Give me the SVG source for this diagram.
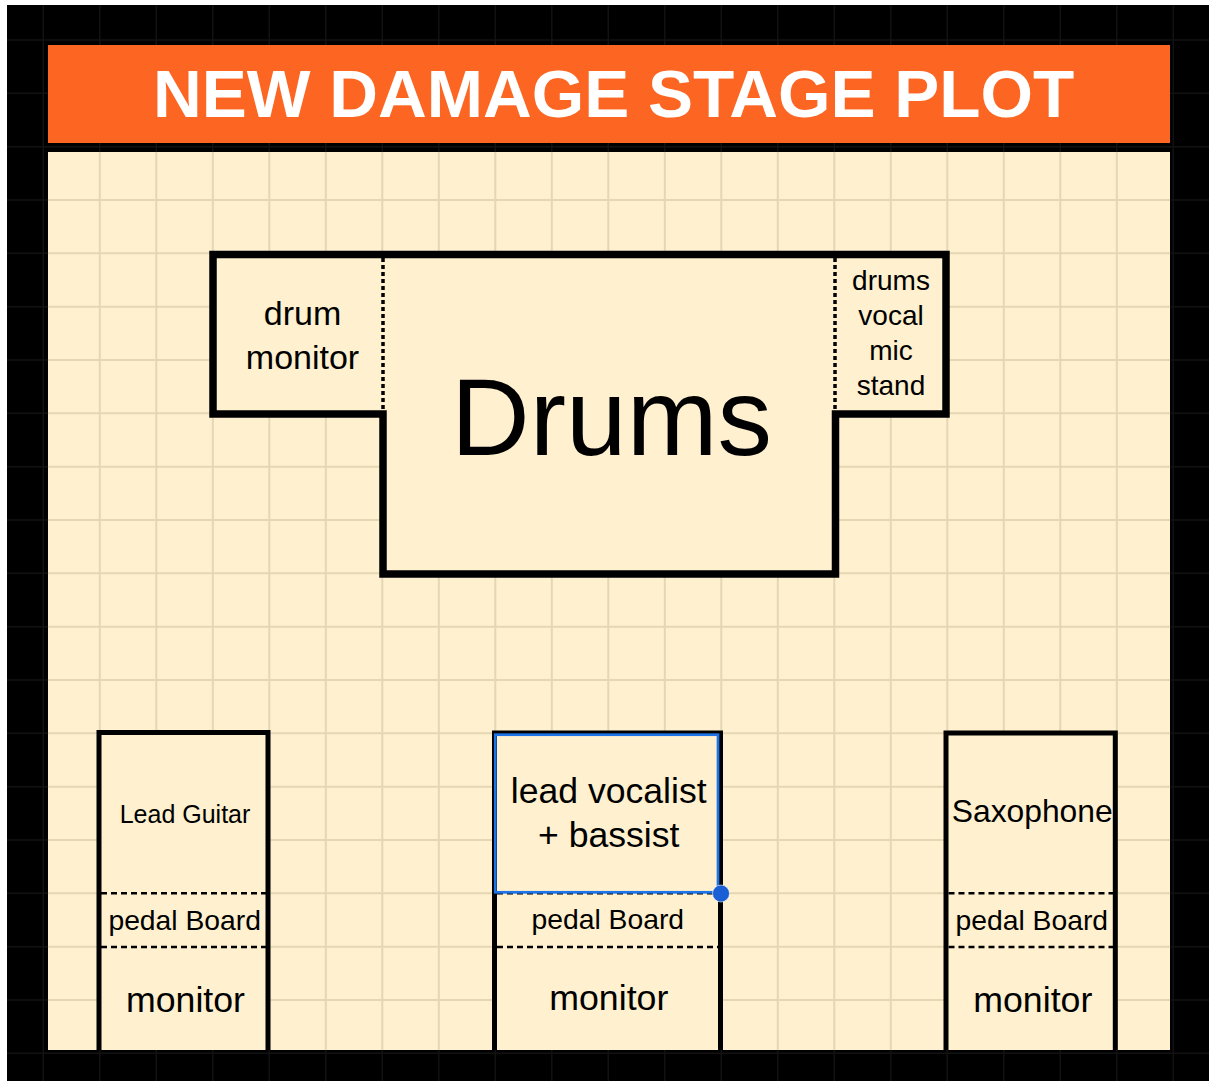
<svg xmlns="http://www.w3.org/2000/svg" width="1209" height="1081" viewBox="0 0 1209 1081">
<style>
.t{font-family:"Liberation Sans",Arial,Helvetica,sans-serif;fill:#000;text-anchor:middle}
.title{font-family:"Liberation Sans",Arial,Helvetica,sans-serif;font-weight:bold;fill:#fff;text-anchor:middle}
.outline{fill:#FFF0CF;stroke:#000;stroke-linejoin:miter}
.dash{stroke:#000;stroke-width:2.5;stroke-dasharray:6 4;fill:none}
.dot{stroke:#000;stroke-width:3.5;stroke-dasharray:4 3;fill:none}
</style>
<defs>
<clipPath id="creamClip"><rect x="48" y="152" width="1122" height="898"/></clipPath>
<clipPath id="blackClip"><rect x="7" y="5" width="1202" height="1076"/></clipPath>
<path id="grid" d="M43.3 0V1081M99.8 0V1081M156.3 0V1081M212.8 0V1081M269.3 0V1081M325.8 0V1081M382.3 0V1081M438.8 0V1081M495.3 0V1081M551.8 0V1081M608.3 0V1081M664.8 0V1081M721.3 0V1081M777.8 0V1081M834.3 0V1081M890.8 0V1081M947.3 0V1081M1003.8 0V1081M1060.3 0V1081M1116.8 0V1081M1173.3 0V1081M0 40H1209M0 93.3H1209M0 146.7H1209M0 200H1209M0 253.3H1209M0 306.7H1209M0 360H1209M0 413.3H1209M0 466.7H1209M0 520H1209M0 573.3H1209M0 626.7H1209M0 680H1209M0 733.3H1209M0 786.7H1209M0 840H1209M0 893.3H1209M0 946.7H1209M0 1000H1209M0 1053.3H1209"/>
</defs>
<rect width="1209" height="1081" fill="#fff"/>
<g id="frame">
<rect x="7" y="5" width="1202" height="1076" fill="#000"/>
<use href="#grid" stroke="#121212" stroke-width="1.5" fill="none" clip-path="url(#blackClip)"/>
<rect x="48" y="45" width="1122" height="98" fill="#FC6622"/>
<rect x="48" y="152" width="1122" height="898" fill="#FFF0CF"/>
<use href="#grid" stroke="#E5D6B4" stroke-width="2" fill="none" clip-path="url(#creamClip)"/>
<text class="title" x="613.7" y="117" font-size="67.5">NEW DAMAGE STAGE PLOT</text>
</g>
<g id="drums">
<path class="outline" stroke-width="7.5" d="M213 254.5H946V414H835.5V574H383V414H213Z"/>
<path class="dot" d="M383 258V410M835 258V410"/>
<text class="t" x="611.5" y="455" font-size="109">Drums</text>
</g>
<g id="drum-monitor">
<text class="t" x="302.5" y="325" font-size="34">drum</text>
<text class="t" x="302.5" y="368.5" font-size="34">monitor</text>
</g>
<g id="drums-vocal-mic">
<text class="t" x="891" y="290" font-size="28">drums</text>
<text class="t" x="891" y="325" font-size="28">vocal</text>
<text class="t" x="891" y="360" font-size="28">mic</text>
<text class="t" x="891" y="395" font-size="28">stand</text>
</g>
<g id="lead-guitar">
<path class="outline" stroke-width="5" d="M99 1050V732.5H268V1050"/>
<path class="dash" d="M101 893.3H266M101 947H266"/>
<text class="t" x="185" y="823" font-size="25">Lead Guitar</text>
<text class="t" x="184.7" y="930" font-size="28.3">pedal Board</text>
<text class="t" x="185.5" y="1011.5" font-size="35.7">monitor</text>
</g>
<g id="lead-vocalist">
<path class="outline" stroke-width="5" d="M494.5 1050V733H720.5V1050"/>
<path class="dash" d="M497 893.3H718M497 947H718"/>
<rect x="495.3" y="734.7" width="222.7" height="157.6" fill="none" stroke="#1E74E6" stroke-width="2.7"/>
<circle cx="721" cy="893.5" r="8.5" fill="#1B5FD5" stroke="#fff" stroke-opacity="0.6" stroke-width="1"/>
<text class="t" x="608.7" y="803.3" font-size="35.6">lead vocalist</text>
<text class="t" x="608.7" y="846.7" font-size="35.6">+ bassist</text>
<text class="t" x="607.8" y="928.5" font-size="28.3">pedal Board</text>
<text class="t" x="608.8" y="1010" font-size="35.7">monitor</text>
</g>
<g id="saxophone">
<path class="outline" stroke-width="5" d="M946 1050V733H1115.3V1050"/>
<path class="dash" d="M948.5 893.3H1113M948.5 947H1113"/>
<text class="t" x="1032.2" y="821.7" font-size="31.8">Saxophone</text>
<text class="t" x="1031.8" y="930" font-size="28.3">pedal Board</text>
<text class="t" x="1032.8" y="1011.5" font-size="35.7">monitor</text>
</g>
<g id="connectors"></g>
</svg>
